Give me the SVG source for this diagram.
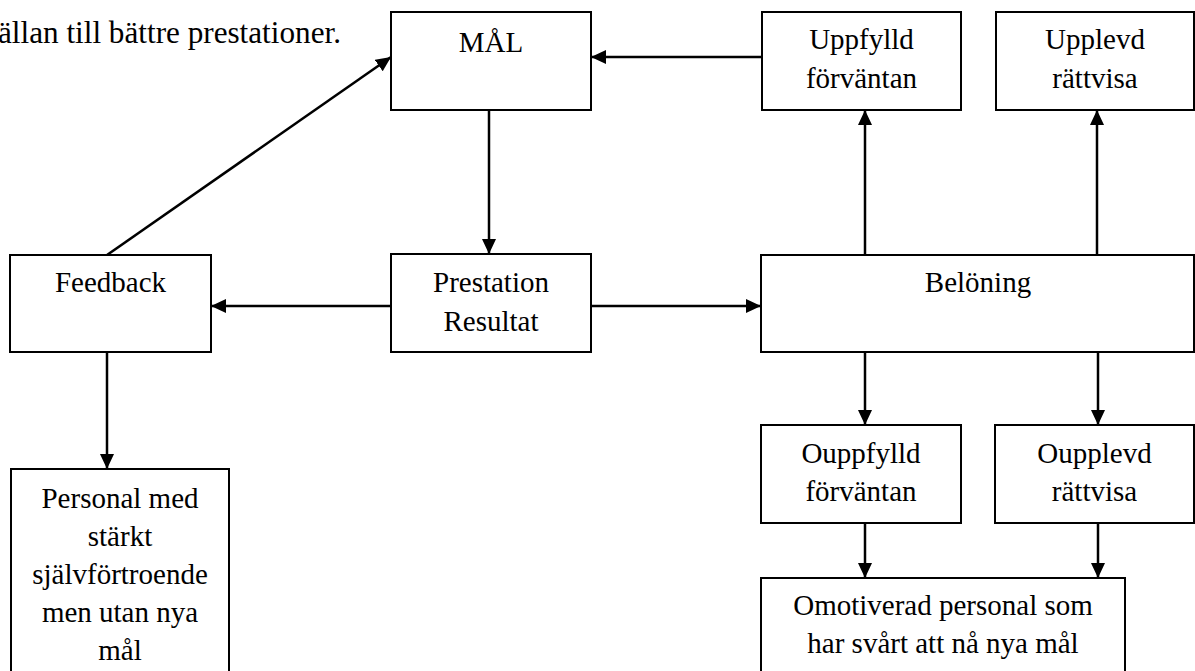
<svg xmlns="http://www.w3.org/2000/svg" width="1195" height="671" viewBox="0 0 1195 671">
<style>
.box{fill:#fff;stroke:#000;stroke-width:2}
.t{font-family:"Liberation Serif","Times New Roman",serif;font-size:29px;fill:#000;text-anchor:middle}
.c{stroke:#000;stroke-width:2.5;fill:none;marker-end:url(#ah)}
</style>
<defs>
<marker id="ah" markerUnits="userSpaceOnUse" markerWidth="16" markerHeight="15" refX="15" refY="7" orient="auto">
<path d="M0,0 L15,7 L0,14 z" fill="#000"/>
</marker>
</defs>
<rect width="1195" height="671" fill="#fff"/>
<text x="-2" y="43" style="font-family:'Liberation Serif','Times New Roman',serif;font-size:31.2px;fill:#000">ällan till bättre prestationer.</text>
<g id="connectors">
<line class="c" x1="762" y1="57" x2="591" y2="57"/>
<line class="c" x1="489" y1="110" x2="489" y2="254"/>
<line class="c" x1="391" y1="306" x2="211" y2="306"/>
<line class="c" x1="591" y1="306" x2="761" y2="306"/>
<line class="c" x1="865" y1="255" x2="865" y2="110"/>
<line class="c" x1="1097" y1="255" x2="1097" y2="110"/>
<line class="c" x1="107" y1="255" x2="391" y2="57"/>
<line class="c" x1="107" y1="352" x2="107" y2="469"/>
<line class="c" x1="865" y1="352" x2="865" y2="425"/>
<line class="c" x1="1098" y1="352" x2="1098" y2="425"/>
<line class="c" x1="865" y1="523" x2="865" y2="578"/>
<line class="c" x1="1098" y1="523" x2="1098" y2="578"/>
</g>
<g id="mal"><rect class="box" x="391" y="12" width="200" height="98"/><text class="t" x="491" y="52">MÅL</text></g>
<g id="uppfylld"><rect class="box" x="762" y="12" width="199" height="98"/><text class="t" x="861.5" y="49">Uppfylld</text><text class="t" x="861.5" y="88">förväntan</text></g>
<g id="upplevd"><rect class="box" x="996" y="12" width="198" height="98"/><text class="t" x="1095" y="49">Upplevd</text><text class="t" x="1095" y="88">rättvisa</text></g>
<g id="feedback"><rect class="box" x="10" y="255" width="201" height="97"/><text class="t" x="110.5" y="292">Feedback</text></g>
<g id="prestation"><rect class="box" x="391" y="254" width="200" height="98"/><text class="t" x="491" y="292">Prestation</text><text class="t" x="491" y="331">Resultat</text></g>
<g id="beloning"><rect class="box" x="761" y="255" width="433" height="97"/><text class="t" x="978" y="292">Belöning</text></g>
<g id="ouppfylld"><rect class="box" x="761" y="425" width="200" height="98"/><text class="t" x="861" y="463">Ouppfylld</text><text class="t" x="861" y="501">förväntan</text></g>
<g id="oupplevd"><rect class="box" x="995" y="425" width="199" height="98"/><text class="t" x="1094.5" y="463">Oupplevd</text><text class="t" x="1094.5" y="501">rättvisa</text></g>
<g id="personal"><rect class="box" x="11" y="469" width="218" height="215"/><text class="t" x="120" y="508">Personal med</text><text class="t" x="120" y="546">stärkt</text><text class="t" x="120" y="584">självförtroende</text><text class="t" x="120" y="622">men utan nya</text><text class="t" x="120" y="660">mål</text></g>
<g id="omotiverad"><rect class="box" x="761" y="578" width="364" height="106"/><text class="t" x="943" y="615">Omotiverad personal som</text><text class="t" x="943" y="653">har svårt att nå nya mål</text></g>
</svg>
